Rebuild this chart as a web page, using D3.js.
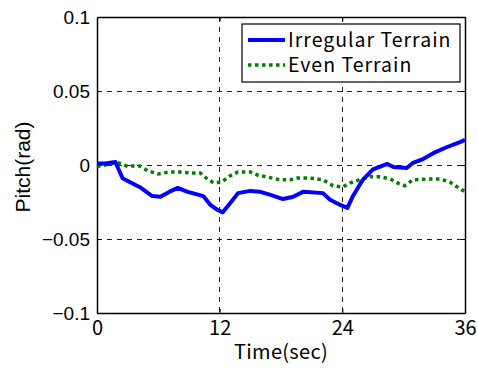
<!DOCTYPE html>
<html>
<head>
<meta charset="utf-8">
<script src="https://cdn.jsdelivr.net/npm/d3@7"></script>
<style>
  body { margin: 0; background: #fff; }
</style>
</head>
<body>
<div id="chart"></div>
<script>
// ----- data ----- //
const irregularT = [0, 0.8, 1.8, 2.5, 3.2, 4.2, 5.4, 6.2, 7.1, 7.9, 8.8, 10.4, 11.1, 11.7, 12.3, 13.0, 13.8, 15.0, 15.9, 16.9, 18.2, 19.2, 20.2, 22.1, 22.8, 23.8, 24.5, 25.0, 26.0, 27.0, 28.4, 29.0, 30.3, 30.9, 31.9, 32.9, 34.2, 35.5, 36];
const irregularV = [0.001, 0.001, 0.002, -0.009, -0.0115, -0.015, -0.021, -0.0215, -0.018, -0.0155, -0.018, -0.021, -0.027, -0.030, -0.032, -0.026, -0.019, -0.0175, -0.018, -0.020, -0.023, -0.0215, -0.018, -0.019, -0.0235, -0.027, -0.029, -0.0215, -0.010, -0.003, 0.0007, -0.0014, -0.002, 0.0014, 0.004, 0.008, 0.012, 0.0155, 0.017];

const evenT = [0, 1.3, 2.0, 2.9, 4.2, 5.0, 6.0, 7.1, 8.1, 9.1, 10.1, 10.8, 11.4, 12.2, 13.0, 13.8, 15.0, 15.7, 16.6, 17.9, 18.9, 19.6, 20.8, 22.1, 23.1, 24.0, 24.8, 25.7, 26.7, 27.7, 28.7, 29.6, 30.1, 30.9, 32.3, 33.6, 34.5, 35.5, 36];
const evenV = [-0.001, 0.0007, 0.0016, -0.0007, -0.0007, -0.004, -0.006, -0.0047, -0.0047, -0.0054, -0.0054, -0.0095, -0.012, -0.0115, -0.0074, -0.0047, -0.0047, -0.0068, -0.008, -0.010, -0.010, -0.0088, -0.0088, -0.010, -0.014, -0.015, -0.012, -0.010, -0.008, -0.008, -0.0095, -0.0128, -0.014, -0.010, -0.0095, -0.0095, -0.0115, -0.016, -0.018];

const xTicks = [0, 12, 24, 36];
const yTicks = [-0.1, -0.05, 0, 0.05, 0.1];
const seriesNames = ["Irregular Terrain", "Even Terrain"];

// ----- layout ----- //
const W = 478, H = 369;
const margin = {top: 17, right: 13, bottom: 56, left: 97};
const width = W - margin.left - margin.right;
const height = H - margin.top - margin.bottom;

const svg = d3.select('#chart').append('svg')
    .attr('width', W)
    .attr('height', H);

const graph = svg.append('g')
    .attr('transform', `translate(${margin.left},${margin.top})`);

const x = d3.scaleLinear().domain([0, 36]).range([0, width]);
const y = d3.scaleLinear().domain([-0.1, 0.1]).range([height, 0]);

// grid (dashed)
graph.append('g').selectAll('line')
    .data(xTicks.slice(1, -1))
    .enter().append('line')
    .attr('x1', d => x(d)).attr('x2', d => x(d))
    .attr('y1', 0).attr('y2', height)
    .attr('stroke', '#222').attr('stroke-width', 1)
    .attr('shape-rendering', 'crispEdges')
    .attr('stroke-dasharray', '5,5');

graph.append('g').selectAll('line')
    .data(yTicks.slice(1, -1))
    .enter().append('line')
    .attr('x1', 0).attr('x2', width)
    .attr('y1', d => y(d)).attr('y2', d => y(d))
    .attr('stroke', '#222').attr('stroke-width', 1)
    .attr('shape-rendering', 'crispEdges')
    .attr('stroke-dasharray', '5,5');

// axes
const axeX = d3.axisBottom(x).tickValues(xTicks).tickSizeInner(-4).tickSizeOuter(0).tickPadding(8);
const axeY = d3.axisLeft(y).tickValues(yTicks).tickSizeInner(-4).tickSizeOuter(0).tickPadding(7)
    .tickFormat(d => d === 0 ? '0' : d3.format('')(d).replace('-', '\u2212'));

const groupeX = graph.append('g').attr('transform', `translate(0,${height})`).call(axeX);
groupeX.selectAll('text')
    .style('font-family', '"Noto Sans CJK JP", sans-serif')
    .style('font-size', '20px')
    .attr('fill', '#000');

const groupeY = graph.append('g').call(axeY);
groupeY.selectAll('text')
    .style('font-family', '"Liberation Sans", Arial, sans-serif')
    .style('font-size', '19px')
    .attr('fill', '#000');

// top/right ticks
graph.append('g').call(d3.axisTop(x).tickValues(xTicks).tickSizeInner(-4).tickSizeOuter(0).tickFormat(''));
graph.append('g').attr('transform', `translate(${width},0)`)
    .call(d3.axisRight(y).tickValues(yTicks).tickSizeInner(-4).tickSizeOuter(0).tickFormat(''));

graph.selectAll('.domain').attr('stroke', '#000').attr('stroke-width', 1.5);
graph.selectAll('.tick line').attr('stroke', '#000');

// lines
const line = d3.line()
    .x(d => x(d[0]))
    .y(d => y(d[1]));

graph.append('path')
    .datum(evenT.map((t, i) => [t, evenV[i]]))
    .attr('d', line)
    .attr('fill', 'none')
    .attr('stroke', '#008000')
    .attr('stroke-width', 3.5)
    .attr('stroke-dasharray', '3.5,3.5');

graph.append('path')
    .datum(irregularT.map((t, i) => [t, irregularV[i]]))
    .attr('d', line)
    .attr('fill', 'none')
    .attr('stroke', '#0000ff')
    .attr('stroke-width', 4)
    .attr('stroke-linejoin', 'round');

// axis labels
svg.append('text')
    .attr('x', margin.left + width / 2)
    .attr('y', 359)
    .attr('text-anchor', 'middle')
    .style('font-family', '"Noto Sans CJK JP", sans-serif')
    .style('font-size', '20px')
    .style('letter-spacing', '0.3px')
    .text('Time(sec)');

svg.append('text')
    .attr('transform', `translate(30,167) rotate(-90)`)
    .attr('text-anchor', 'middle')
    .style('font-family', '"Liberation Sans", Arial, sans-serif')
    .style('font-size', '21px')
    .text('Pitch(rad)');

// legend
const legend = svg.append('g').attr('transform', 'translate(242,24)');
legend.append('rect')
    .attr('width', 218).attr('height', 58)
    .attr('fill', '#fff').attr('stroke', '#000').attr('stroke-width', 1.2);

const legendStyles = [
  {color: '#0000ff', width: 4, dash: null},
  {color: '#008000', width: 3.5, dash: '3.5,3.5'}
];
seriesNames.forEach((name, i) => {
  const row = legend.append('g').attr('transform', `translate(0,${16 + i * 25})`);
  row.append('line')
      .attr('x1', 6).attr('x2', 43)
      .attr('stroke', legendStyles[i].color)
      .attr('stroke-width', legendStyles[i].width)
      .attr('stroke-dasharray', legendStyles[i].dash);
  row.append('text')
      .attr('x', 46).attr('y', 7)
      .style('font-family', '"Noto Sans CJK JP", sans-serif')
      .style('font-size', '19.5px')
      .style('letter-spacing', '1px')
      .text(name);
});
</script>
</body>
</html>
